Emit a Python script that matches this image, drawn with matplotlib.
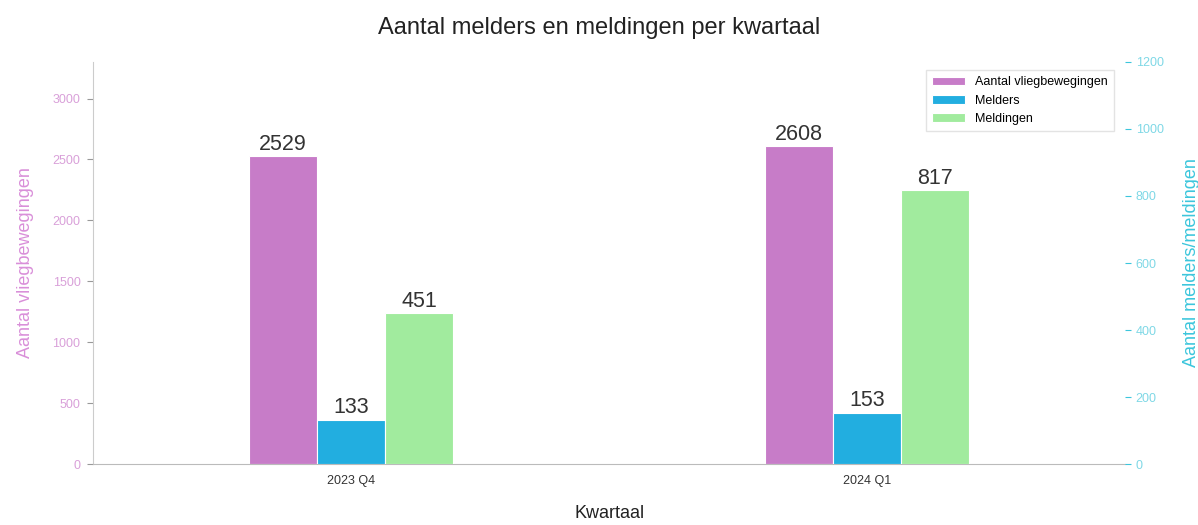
import numpy as np
import matplotlib
matplotlib.use('Agg')
import matplotlib.pyplot as plt

plt.rcParams['font.family'] = ['Liberation Sans', 'DejaVu Sans']

kwartalen = ['2023 Q4', '2024 Q1']
vliegbewegingen = [2529, 2608]
melders = [133, 153]
meldingen = [451, 817]

kleur_vlieg = '#c77cc8'
kleur_melders = '#22aee0'
kleur_meldingen = '#a1eb9e'
kleur_rechts = '#3cc6dc'

x = np.arange(len(kwartalen))
w = 0.132

fig = plt.figure(figsize=(11.98, 5.25), dpi=100)
ax = fig.add_axes([0.0776, 0.116, 0.8616, 0.766])
ax2 = ax.twinx()

b1 = ax.bar(x - w, vliegbewegingen, w, color=kleur_vlieg, edgecolor='white', linewidth=0.8,
            label='Aantal vliegbewegingen')
b2 = ax2.bar(x, melders, w, color=kleur_melders, edgecolor='white', linewidth=0.8, label='Melders')
b3 = ax2.bar(x + w, meldingen, w, color=kleur_meldingen, edgecolor='white', linewidth=0.8,
             label='Meldingen')

ax.bar_label(b1, fontsize=15.5, color='#333333', padding=1)
ax2.bar_label(b2, fontsize=15.5, color='#333333', padding=1)
ax2.bar_label(b3, fontsize=15.5, color='#333333', padding=1)

ax.set_xlim(-0.5, 1.5)
ax.set_ylim(0, 3300)
ax2.set_ylim(0, 1200)
ax.set_yticks(range(0, 3001, 500))
ax2.set_yticks(range(0, 1201, 200))
ax.set_xticks(x)
ax.set_xticklabels(kwartalen)

for s in ['top', 'right']:
    ax.spines[s].set_visible(False)
for s in ['top', 'right', 'left', 'bottom']:
    ax2.spines[s].set_visible(False)
ax.spines['left'].set_color('#cccccc')
ax.spines['bottom'].set_color('#bbbbbb')

ax.tick_params(axis='y', colors='#999999', labelcolor='#d9a0d9', labelsize=9, length=4, width=0.8, pad=5)
ax.tick_params(axis='x', length=0, labelsize=9, labelcolor='#333333', pad=8)
ax2.tick_params(axis='y', colors=kleur_rechts, labelcolor='#7fd8e6', labelsize=9, length=4, width=0.8)

ax.set_ylabel('Aantal vliegbewegingen', color='#d98fd9', fontsize=13, labelpad=13)
ax2.set_ylabel('Aantal melders/meldingen', color=kleur_rechts, fontsize=13, labelpad=14)
ax.set_xlabel('Kwartaal', fontsize=13, color='#222222', labelpad=13)
fig.suptitle('Aantal melders en meldingen per kwartaal', fontsize=17, color='#222222', y=0.968)

handles = [b1, b2, b3]
ax2.legend(handles, [h.get_label() for h in handles], loc='upper right', fontsize=9,
           frameon=True, fancybox=False, edgecolor='#dddddd', borderpad=0.5,
           handlelength=2.6, bbox_to_anchor=(0.995, 0.995))

fig.savefig('out.png', dpi=100)
